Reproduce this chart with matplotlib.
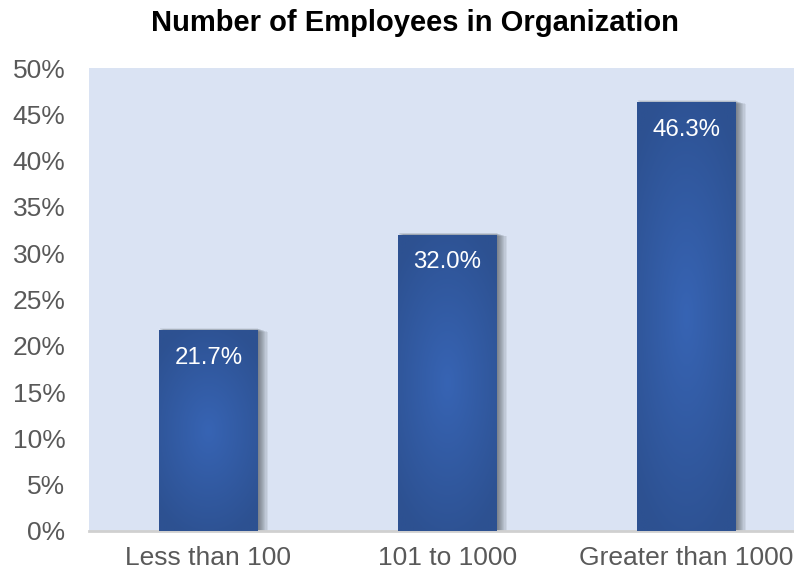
import numpy as np
import matplotlib.pyplot as plt
from matplotlib.patches import Rectangle

plt.rcParams['font.family'] = ['Liberation Sans', 'DejaVu Sans']

categories = ["Less than 100", "101 to 1000", "Greater than 1000"]
values = [21.7, 32.0, 46.3]
yticks = [0, 5, 10, 15, 20, 25, 30, 35, 40, 45, 50]

fig = plt.figure(figsize=(7.94, 5.77), dpi=100)
ax = fig.add_axes([89/794, 46/577, 705/794, 463/577])
ax.set_facecolor('#DAE3F3')

x = np.arange(len(categories))
w = 0.414

# radial gradient used inside each bar
gy, gx = np.mgrid[-1:1:200j, -1:1:100j]
r = np.sqrt((gx*0.7)**2 + (gy*0.9)**2)
r = np.clip(r / 1.0, 0, 1)
c_in = np.array([0x37, 0x64, 0xB4]) / 255
c_out = np.array([0x2D, 0x51, 0x91]) / 255
grad = c_in[None, None, :] * (1 - r[..., None]) + c_out[None, None, :] * r[..., None]

bars = ax.bar(x, values, width=w, color='#2F5597', zorder=3)
for xi, v, b in zip(x, values, bars):
    # soft shadow to the right of the bar
    for k in range(10):
        ax.add_patch(Rectangle((xi - w/2 + 0.004 + 0.0045*k, 0), w - 0.004,
                               v + 0.2 - 0.04*k,
                               color='#30343C', alpha=0.08, lw=0, zorder=2))
    im = ax.imshow(grad, extent=(xi - w/2, xi + w/2, 0, v), aspect='auto',
                   origin='lower', zorder=4)
    im.set_clip_path(b)
    ax.text(xi, v - 3.0, f"{v:.1f}%", ha='center', va='center',
            color='white', fontsize=17.3, zorder=5)

ax.set_xlim(-0.5, 2.45)
ax.set_ylim(0, 50)
ax.set_yticks(yticks)
ax.set_yticklabels([f"{t}%" for t in yticks])
ax.set_xticks(x)
ax.set_xticklabels(categories)
ax.tick_params(axis='both', length=0, labelsize=19, labelcolor='#595959')
ax.tick_params(axis='y', pad=17)
ax.tick_params(axis='x', pad=11)
for s in ['top', 'left', 'right']:
    ax.spines[s].set_visible(False)
ax.spines['bottom'].set_color('#D0D0D0')
ax.spines['bottom'].set_linewidth(2)

fig.text(415/794, 1 - 23/577, "Number of Employees in Organization",
         ha='center', va='center', fontsize=21, fontweight='bold')

fig.savefig("out.png", dpi=100)
